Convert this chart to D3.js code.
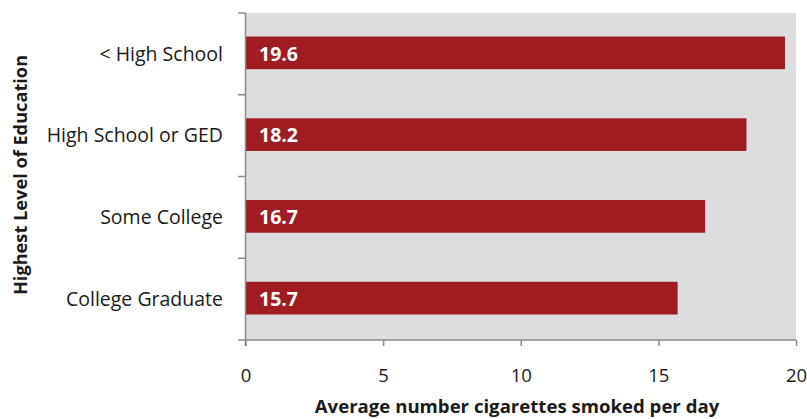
<!DOCTYPE html>
<html>
<head>
<meta charset="utf-8">
<script src="https://cdn.jsdelivr.net/npm/d3@7/dist/d3.min.js"></script>
<style>
  html, body { margin: 0; padding: 0; background: #fff; }
  svg { display: block; font-family: "Open Sans", sans-serif; }
</style>
</head>
<body>
<svg id="chart" width="807" height="419"></svg>
<script>
// Average cigarettes smoked per day by highest level of education
const categories = ["< High School", "High School or GED", "Some College", "College Graduate"];
const values = [19.6, 18.2, 16.7, 15.7];
const xTicks = [0, 5, 10, 15, 20];

const svg = d3.select("#chart");
const margin = { left: 245.5, right: 11, top: 13, bottom: 79 };
const W = 807, H = 419;
const axisColor = "#8a8a8a";
const barColor = "#a01c23";
const textColor = "#1a1a1a";

const x = d3.scaleLinear().domain([0, 20]).range([margin.left, W - margin.right]);
const y = d3.scaleBand().domain(categories).range([margin.top, H - margin.bottom]);
const barH = y.bandwidth() * 0.4;

// plot background
svg.append("rect")
  .attr("x", x(0)).attr("y", margin.top)
  .attr("width", x(20) - x(0)).attr("height", H - margin.bottom - margin.top)
  .attr("fill", "#dcddde");

// bars
svg.selectAll("rect.bar").data(values).join("rect")
  .attr("class", "bar")
  .attr("x", x(0))
  .attr("y", (d, i) => y(categories[i]) + y.bandwidth() / 2 - barH / 2 - 1)
  .attr("width", d => x(d) - x(0))
  .attr("height", barH)
  .attr("fill", barColor);

// value labels inside bars
svg.selectAll("text.val").data(values).join("text")
  .attr("class", "val")
  .attr("x", x(0) + 13.5)
  .attr("y", (d, i) => y(categories[i]) + y.bandwidth() / 2 + 6.8)
  .attr("fill", "#fff")
  .attr("font-weight", "bold")
  .attr("font-size", 19.5)
  .text(d => d.toFixed(1));

// x axis
const xAxis = d3.axisBottom(x).tickValues(xTicks).tickSize(6).tickSizeOuter(0).tickPadding(22.5);
const gx = svg.append("g").attr("transform", `translate(0,${H - margin.bottom})`).call(xAxis);
gx.select(".domain").remove();
gx.append("line").attr("x1", x(0) - 7.5).attr("x2", x(20)).attr("y1", 0).attr("y2", 0)
  .attr("stroke", axisColor).attr("stroke-width", 1.5);
gx.selectAll(".tick line").attr("stroke", axisColor).attr("stroke-width", 1.5);
gx.selectAll(".tick text").attr("fill", textColor).attr("font-size", 18.5)
  .attr("font-family", "'Open Sans', sans-serif");

// y axis: line with tick marks at band boundaries
const gy = svg.append("g");
gy.append("line").attr("x1", x(0)).attr("x2", x(0))
  .attr("y1", margin.top).attr("y2", H - margin.bottom + 6)
  .attr("stroke", axisColor).attr("stroke-width", 1.5);
gy.selectAll("line.tk").data(categories).join("line")
  .attr("class", "tk")
  .attr("x1", x(0) - 7.5).attr("x2", x(0))
  .attr("y1", d => y(d)).attr("y2", d => y(d))
  .attr("stroke", axisColor).attr("stroke-width", 1.5);

// category labels
svg.selectAll("text.cat").data(categories).join("text")
  .attr("class", "cat")
  .attr("x", 223)
  .attr("y", d => y(d) + y.bandwidth() / 2 + 6.7)
  .attr("text-anchor", "end")
  .attr("fill", textColor)
  .attr("font-size", 19.5)
  .text(d => d);

// axis titles
svg.append("text")
  .attr("x", 517).attr("y", 412.5)
  .attr("text-anchor", "middle")
  .attr("font-weight", "bold").attr("font-size", 18.6).attr("fill", textColor)
  .text("Average number cigarettes smoked per day");

svg.append("text")
  .attr("transform", "translate(27,175) rotate(-90)")
  .attr("text-anchor", "middle")
  .attr("font-weight", "bold").attr("font-size", 18.2).attr("fill", textColor)
  .text("Highest Level of Education");
</script>
</body>
</html>
